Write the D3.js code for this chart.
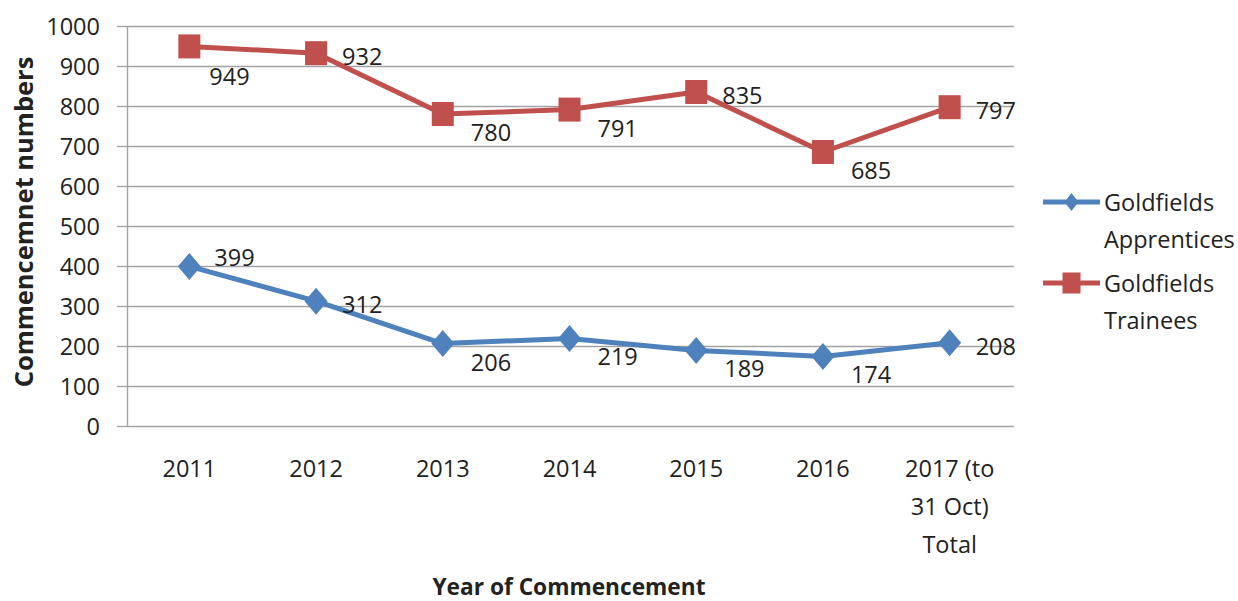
<!DOCTYPE html>
<html>
<head>
<meta charset="utf-8">
<script src="https://cdn.jsdelivr.net/npm/d3@7"></script>
<style>
  body { margin: 0; background: #ffffff; }
  svg text { font-family: "Open Sans", "Noto Sans", sans-serif; fill: #222222; }
</style>
</head>
<body>
<svg id="chart" width="1238" height="601"></svg>
<script>
// Commencements by year, Goldfields region
const categories = ["2011", "2012", "2013", "2014", "2015", "2016", "2017 (to\n31 Oct)\nTotal"];
const apprentices = [399, 312, 206, 219, 189, 174, 208];
const trainees = [949, 932, 780, 791, 835, 685, 797];
const yTicks = [0, 100, 200, 300, 400, 500, 600, 700, 800, 900, 1000];
const seriesNames = ["Goldfields\nApprentices", "Goldfields\nTrainees"];

// where each value label sits relative to its marker
const apprenticeLabelPos = ["above", "right", "below", "below", "below", "below", "right"];
const traineeLabelPos = ["belowLeft", "right", "below", "below", "right", "below", "right"];
const labelOffsets = {
  right: [26, 12],
  below: [28, 27],
  above: [25, 0],
  belowLeft: [20, 39]
};

const blue = "#4f81bd";
const red = "#c0504d";
const gridColor = "#a3a3a3";

const svg = d3.select("#chart");

const plot = { left: 127, right: 1014, top: 26, bottom: 426 };

const x = d3.scaleBand()
  .domain(categories)
  .range([plot.left - 1, plot.right - 1])
  .paddingInner(0).paddingOuter(0);
const cx = d => x(d) + x.bandwidth() / 2;

const y = d3.scaleLinear()
  .domain([0, 1000])
  .range([plot.bottom, plot.top]);

// horizontal gridlines
svg.append("g")
  .attr("transform", `translate(${plot.left},0)`)
  .call(d3.axisLeft(y).tickValues(yTicks).tickSize(-(plot.right - plot.left)).tickFormat(""))
  .call(g => g.select(".domain").remove())
  .call(g => g.selectAll("line").attr("stroke", gridColor).attr("stroke-width", 1.4));

// value axis with outward ticks and labels
svg.append("g")
  .attr("transform", `translate(${plot.left},0)`)
  .call(d3.axisLeft(y).tickValues(yTicks).tickFormat(d3.format("d"))
    .tickSizeInner(10).tickSizeOuter(0).tickPadding(17))
  .call(g => g.select(".domain").attr("stroke", gridColor).attr("stroke-width", 1.4))
  .call(g => g.selectAll("line").attr("stroke", gridColor).attr("stroke-width", 1.4))
  .call(g => g.selectAll("text")
    .attr("font-size", 23.5)
    .attr("dy", "0.36em")
    .style("font-family", "'Open Sans', sans-serif")
    .attr("fill", "#222"));

// category axis labels, multi-line where needed
const xAxis = svg.append("g")
  .attr("transform", `translate(0,${plot.bottom})`)
  .call(d3.axisBottom(x).tickSize(0).tickPadding(0))
  .call(g => g.select(".domain").remove());
xAxis.selectAll(".tick text")
  .attr("font-size", 23.5)
  .attr("fill", "#222")
  .attr("dy", null)
  .attr("y", null)
  .each(function (d) {
    const t = d3.select(this);
    t.text(null);
    d.split("\n").forEach((line, i) => {
      t.append("tspan").attr("x", 0).attr("y", 51 + i * 38).text(line);
    });
  });

// axis titles
svg.append("text")
  .attr("transform", "translate(33,222) rotate(-90)")
  .attr("text-anchor", "middle")
  .attr("font-size", 25.5)
  .attr("font-weight", "bold")
  .attr("fill", "#000")
  .text("Commencemnet numbers");

svg.append("text")
  .attr("x", 569)
  .attr("y", 595)
  .attr("text-anchor", "middle")
  .attr("font-size", 22.7)
  .attr("font-weight", "bold")
  .attr("fill", "#000")
  .text("Year of Commencement");

const line = d3.line()
  .x((d, i) => cx(categories[i]))
  .y(d => y(d));

const diamond = (w, h) => `M0,${-h / 2}L${w / 2},0L0,${h / 2}L${-w / 2},0Z`;

function drawSeries(values, color, marker, labelPos) {
  const g = svg.append("g");
  g.append("path")
    .datum(values)
    .attr("d", line)
    .attr("fill", "none")
    .attr("stroke", color)
    .attr("stroke-width", 5)
    .attr("stroke-linejoin", "round");

  const pts = g.selectAll("g.pt")
    .data(values)
    .join("g")
    .attr("class", "pt")
    .attr("transform", (d, i) => `translate(${cx(categories[i])},${y(d)})`);

  if (marker === "square") {
    pts.append("rect")
      .attr("x", -11).attr("y", -12)
      .attr("width", 22).attr("height", 24)
      .attr("fill", color);
  } else {
    pts.append("path")
      .attr("d", diamond(23, 27))
      .attr("fill", color);
  }

  pts.append("text")
    .attr("x", (d, i) => labelOffsets[labelPos[i]][0])
    .attr("y", (d, i) => labelOffsets[labelPos[i]][1])
    .attr("font-size", 23.5)
    .attr("fill", "#222")
    .text(d => d);
}

drawSeries(trainees, red, "square", traineeLabelPos);
drawSeries(apprentices, blue, "diamond", apprenticeLabelPos);

// legend
const legendItems = [
  { name: seriesNames[0], color: blue, marker: "diamond", y: 202 },
  { name: seriesNames[1], color: red, marker: "square", y: 283 }
];
const legend = svg.append("g");
legendItems.forEach(item => {
  const lg = legend.append("g").attr("transform", `translate(1043,${item.y})`);
  lg.append("line")
    .attr("x1", 0).attr("x2", 57)
    .attr("stroke", item.color)
    .attr("stroke-width", 5);
  if (item.marker === "square") {
    lg.append("rect").attr("x", 28.5 - 9).attr("y", -10.5).attr("width", 18).attr("height", 21).attr("fill", item.color);
  } else {
    lg.append("path").attr("transform", "translate(28.5,0)").attr("d", diamond(14, 18)).attr("fill", item.color);
  }
  const t = lg.append("text").attr("font-size", 23.5).attr("fill", "#222");
  item.name.split("\n").forEach((part, i) => {
    t.append("tspan").attr("x", 61).attr("y", 9 + i * 37).text(part);
  });
});
</script>
</body>
</html>
